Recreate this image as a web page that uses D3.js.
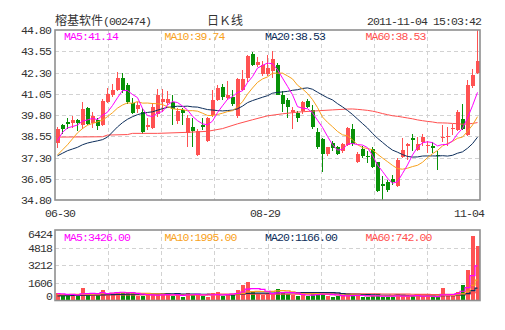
<!DOCTYPE html>
<html>
<head>
<meta charset="utf-8">
<script src="https://cdn.jsdelivr.net/npm/d3@7/dist/d3.min.js"></script>
<style>
  html, body { margin: 0; padding: 0; background: #fff; }
  svg text { font-family: "Liberation Mono", "Noto Sans CJK SC", monospace; font-size: 11.5px; letter-spacing: -0.9px; fill: #333; }
  svg text.cjk { font-family: "Noto Sans CJK SC", sans-serif; font-size: 12px; letter-spacing: 0; }
</style>
</head>
<body>
<svg id="chart" width="505" height="330"></svg>
<script>
// ---- daily bars, 2011-06-30 .. 2011-11-04 ----
const opens  = [38.15,39.20,39.37,39.32,39.52,39.20,40.20,39.35,39.50,39.20,
                40.58,40.95,41.27,41.95,41.55,40.50,40.17,40.00,39.10,39.05,
                39.85,40.55,40.50,40.55,39.43,40.11,38.72,39.12,37.45,39.20,
                38.25,39.80,40.68,41.45,40.78,40.87,39.75,41.30,42.00,43.40,
                42.75,42.22,42.20,42.40,42.77,40.95,40.70,39.99,39.90,40.02,
                40.65,40.08,38.80,38.40,37.52,38.17,37.92,37.66,38.05,39.00,
                37.03,37.82,37.40,37.82,37.03,35.72,35.85,36.05,35.62,37.33,
                38.00,38.45,37.72,38.22,38.00,37.98,37.45,38.45,38.48,38.95,
                38.90,39.55,38.60,41.53,42.26];
const highs  = [39.10,39.30,39.60,39.77,39.58,40.56,40.25,39.95,39.65,40.75,
                41.40,41.60,42.32,42.27,41.70,40.80,40.56,40.20,39.60,40.50,
                41.35,41.35,41.20,41.00,40.20,40.20,39.80,39.63,39.00,39.60,
                39.70,41.25,41.55,41.60,41.80,41.25,42.00,42.45,43.35,43.50,
                43.20,43.00,43.32,43.55,42.85,41.20,40.80,40.30,40.05,40.65,
                40.72,40.40,39.05,38.45,37.92,38.25,38.00,38.15,39.10,39.25,
                37.60,37.95,37.70,37.90,37.05,36.24,35.95,36.30,37.30,38.45,
                38.15,38.70,38.51,38.70,38.30,38.20,37.70,39.24,39.10,39.30,
                40.08,40.42,41.86,42.50,44.80];
const lows   = [37.85,38.70,38.98,39.04,38.84,38.95,39.20,39.05,38.92,39.15,
                40.50,40.85,41.20,41.10,40.45,39.85,39.90,38.70,38.90,39.00,
                39.70,40.00,40.40,39.24,39.30,39.20,37.90,37.90,37.40,38.90,
                38.20,39.70,40.60,40.70,40.70,40.35,39.60,41.20,41.75,42.70,
                42.60,42.10,42.10,42.00,40.95,39.95,39.65,39.00,39.40,39.85,
                40.20,39.00,37.80,36.44,37.40,37.70,37.45,37.55,37.95,38.00,
                36.95,37.30,37.00,36.70,35.25,34.70,35.25,35.70,35.55,37.25,
                37.15,37.66,37.70,38.00,37.55,37.55,36.59,38.20,38.00,38.60,
                38.85,38.90,38.55,41.40,42.20];
const closes = [39.00,38.97,39.28,39.48,39.32,40.17,39.30,39.72,39.15,40.60,
                41.05,41.27,42.00,41.30,40.56,39.90,40.36,38.80,39.20,40.30,
                40.95,40.75,40.76,40.17,40.03,39.91,39.63,38.88,38.88,39.10,
                39.63,40.70,41.40,40.88,41.00,40.42,41.92,41.90,43.30,42.75,
                42.92,42.72,42.58,43.10,41.00,40.45,40.30,40.10,39.60,40.55,
                40.30,39.10,37.92,37.48,37.90,37.86,37.52,38.10,39.04,38.11,
                37.52,37.39,37.35,36.74,35.32,35.60,35.40,35.88,37.17,37.75,
                38.10,38.35,38.11,38.51,38.05,37.86,37.38,38.52,38.55,39.05,
                39.95,39.00,41.56,42.16,42.98];
const volumes = [670,365,425,610,490,1125,520,520,520,940,
                 670,670,820,670,670,730,365,455,520,490,
                 610,520,550,400,610,300,700,610,550,420,
                 330,640,760,450,520,520,940,1450,1730,730,
                 600,520,640,640,1030,760,610,520,430,490,
                 450,600,700,640,450,330,400,430,520,580,
                 420,330,280,500,560,330,330,300,600,420,
                 380,450,380,400,380,330,300,1125,420,520,
                 750,1410,2780,5880,4970];

// moving-average values at the start of the window (before a full period is available)
const ma5Head  = [38.29,38.78,39.04,39.12];
const ma10Head = [37.45,37.75,38.05,38.40,38.75,39.00,39.20,39.30,39.40];
const ma20Head = [37.40,37.55,37.70,37.80,37.90,38.05,38.15,38.22,38.28,38.35,
                  38.50,38.80,39.10,39.35,39.55,39.70,39.82,39.90,39.95];
const ma60Head = [[0,38.50],[9,38.52],[10,38.62],[14,38.65],[15,38.72],[20,38.72],[26,38.78],
                  [30,38.84],[33,39.00],[36,39.28],[39,39.52],[42,39.75],[45,39.87],
                  [48,39.97],[51,40.03],[55,40.10],[58,40.15]];
const vma5Head  = [620,600,560,560];
const vma10Head = [540,540,540,550,550,560,560,570,580];
const vma20Head = [430,440,450,460,470,480,490,500,510,520,530,540,550,560,570,580,585,590,600];
const vma60Head = [[0,480],[20,520],[40,580],[58,610]];

// labels
const stockTitle = "榕基软件(002474)";
const chartKind  = "日Ｋ线";
const timestamp  = "2011-11-04 15:03:42";
const maNames    = ["MA5","MA10","MA20","MA60"];
const priceLegend = [41.14,39.74,38.53,38.53];
const volLegend   = [3426,1995,1166,742];
const priceTicks  = [34.80,36.05,37.30,38.55,39.80,41.05,42.30,43.55,44.80];
const volTicks    = [0,1606,3212,4818,6424];
const dateLabels  = ["06-30","08-29","11-04"];
const dateIndex   = [0,41,84];

// ---- styling / layout ----
const maColors = ["#ff00ff","#f8a21c","#0c2d5a","#ff4f4f"];
const UP = "#ff5252", DOWN = "#079107";
const frameColor = "#8f8f8f", gridColor = "#d2d2d2";
const L = 55, R = 480;
const pTop = 30, pBot = 200;
const vTop = 230, vBot = 300.5;

const svg = d3.select("#chart");
const n = closes.length;

const xc = d3.scaleLinear().domain([-0.5, n - 0.5]).range([L, R]);
const y  = d3.scaleLinear().domain([34.80, 44.80]).range([pBot, pTop]);
const yv = d3.scaleLinear().domain([0, 6424]).range([vBot, vTop]);
const xGrid = d3.scaleLinear().domain([0, 8]).range([L, R]);

function maSeries(values, period, headPairs) {
  const pts = headPairs.slice();
  for (let i = period - 1; i < values.length; i++) {
    pts.push([i, d3.mean(values.slice(i - period + 1, i + 1))]);
  }
  return pts;
}
const dense = h => h.map((v, i) => [i, v]);

svg.append("defs").call(d => {
  d.append("clipPath").attr("id", "clipP").append("rect")
    .attr("x", L).attr("y", pTop).attr("width", R - L).attr("height", pBot - pTop);
  d.append("clipPath").attr("id", "clipV").append("rect")
    .attr("x", L).attr("y", vTop).attr("width", R - L).attr("height", vBot - vTop);
});

function panelGrid(top, bottom, yVals) {
  const g = svg.append("g").attr("stroke", gridColor).attr("stroke-dasharray", "4,3")
    .attr("shape-rendering", "crispEdges");
  g.selectAll("line.h").data(yVals).join("line")
    .attr("x1", L).attr("x2", R)
    .attr("y1", d => Math.round(d) + 0.5).attr("y2", d => Math.round(d) + 0.5);
  g.selectAll("line.v").data(d3.range(1, 8)).join("line")
    .attr("x1", d => Math.round(xGrid(d)) + 0.5).attr("x2", d => Math.round(xGrid(d)) + 0.5)
    .attr("y1", top).attr("y2", bottom);
}
panelGrid(pTop, pBot, priceTicks.slice(1, -1).map(y));
panelGrid(vTop, vBot, volTicks.slice(1, -1).map(yv));

// ---- candles ----
const isUp = i => closes[i] >= opens[i];
const idx = d3.range(n);
const barLeft = i => Math.floor(xc(i)) - 1;
const cg = svg.append("g").attr("shape-rendering", "crispEdges").attr("clip-path", "url(#clipP)");
cg.selectAll("rect.wick").data(idx).join("rect")
  .attr("x", i => Math.floor(xc(i)))
  .attr("width", 1)
  .attr("y", i => y(highs[i]))
  .attr("height", i => Math.max(1, y(lows[i]) - y(highs[i])))
  .attr("fill", i => isUp(i) ? UP : DOWN);
cg.selectAll("rect.body").data(idx).join("rect")
  .attr("x", barLeft)
  .attr("width", 4)
  .attr("y", i => y(Math.max(opens[i], closes[i])))
  .attr("height", i => Math.max(1, Math.abs(y(opens[i]) - y(closes[i]))))
  .attr("fill", i => isUp(i) ? UP : DOWN);

// ---- price moving averages ----
const priceMA = [
  maSeries(closes, 5, dense(ma5Head)),
  maSeries(closes, 10, dense(ma10Head)),
  maSeries(closes, 20, dense(ma20Head)),
  maSeries(closes, 60, ma60Head)
];
const pLine = d3.line().x(d => xc(d[0])).y(d => y(d[1]));
svg.append("g").attr("clip-path", "url(#clipP)").selectAll("path")
  .data([3, 2, 1, 0]).join("path")
  .attr("d", k => pLine(priceMA[k]))
  .attr("fill", "none").attr("stroke", k => maColors[k]).attr("stroke-width", 1);

// ---- volume bars ----
const vg = svg.append("g").attr("shape-rendering", "crispEdges").attr("clip-path", "url(#clipV)");
vg.selectAll("rect").data(idx).join("rect")
  .attr("x", barLeft)
  .attr("width", 4)
  .attr("y", i => yv(volumes[i]))
  .attr("height", i => yv(0) - yv(volumes[i]))
  .attr("fill", i => isUp(i) ? UP : DOWN);

const volMA = [
  maSeries(volumes, 5, dense(vma5Head)),
  maSeries(volumes, 10, dense(vma10Head)),
  maSeries(volumes, 20, dense(vma20Head)),
  maSeries(volumes, 60, vma60Head)
];
const vLine = d3.line().x(d => xc(d[0])).y(d => yv(d[1])).curve(d3.curveStep);
svg.append("g").attr("clip-path", "url(#clipV)").selectAll("path")
  .data([3, 2, 1, 0]).join("path")
  .attr("d", k => vLine(volMA[k]))
  .attr("fill", "none").attr("stroke", k => maColors[k]).attr("stroke-width", 1.2);

// ---- frames ----
[[pTop, pBot], [vTop, vBot]].forEach(([t, b]) => {
  svg.append("rect").attr("x", L).attr("y", t).attr("width", R - L).attr("height", b - t)
    .attr("fill", "none").attr("stroke", frameColor).attr("stroke-width", 1.6);
});

// ---- axes ----
const yAxis = d3.axisLeft(y).tickValues(priceTicks).tickFormat(d3.format(".2f")).tickSize(0).tickPadding(4);
svg.append("g").attr("transform", `translate(${L},0)`).call(yAxis)
  .call(g => g.select(".domain").remove())
  .call(g => g.selectAll("text").attr("fill", "#333").attr("font-family", null).attr("font-size", null));

const vAxis = d3.axisLeft(yv).tickValues(volTicks).tickFormat(d3.format("d")).tickSize(0).tickPadding(3);
svg.append("g").attr("transform", `translate(${L},0)`).call(vAxis)
  .call(g => g.select(".domain").remove())
  .call(g => g.selectAll("text").attr("fill", "#333").attr("font-family", null).attr("font-size", null)
    .attr("dy", d => d === 0 ? "-0.05em" : (d === 6424 ? "0.62em" : "0.32em")));

const xAxis = d3.axisBottom(xc).tickValues(dateIndex).tickFormat((d, i) => dateLabels[i]).tickSize(0).tickPadding(0);
svg.append("g").attr("transform", `translate(0,${pBot + 9})`).call(xAxis)
  .call(g => g.select(".domain").remove())
  .call(g => g.selectAll("text").attr("fill", "#333").attr("font-family", null).attr("font-size", null)
    .attr("dx", d => d === dateIndex[dateIndex.length - 1] ? -9 : 2));

// ---- legends ----
const legendX = k => 64 + k * 100.5;
svg.append("g").selectAll("text").data(d3.range(4)).join("text")
  .attr("x", legendX).attr("y", 39.5)
  .style("fill", k => maColors[k])
  .text(k => `${maNames[k]}:${priceLegend[k].toFixed(2)}`);
svg.append("g").selectAll("text").data(d3.range(4)).join("text")
  .attr("x", legendX).attr("y", 240.5)
  .style("fill", k => maColors[k])
  .text(k => `${maNames[k]}:${volLegend[k].toFixed(2)}`);

// ---- header ----
const head = svg.append("text").attr("x", L).attr("y", 25);
head.append("tspan").style("font-family", "'Noto Sans CJK SC'").style("font-size", "12px").style("letter-spacing", "0")
  .text(stockTitle.slice(0, 4));
head.append("tspan").text(stockTitle.slice(4));
svg.append("text").attr("class", "cjk").attr("x", 207).attr("y", 25).text(chartKind);
svg.append("text").attr("x", R + 1).attr("y", 25).attr("text-anchor", "end").text(timestamp);
</script>
</body>
</html>
